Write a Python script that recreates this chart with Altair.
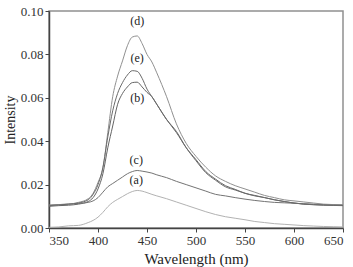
import altair as alt
import pandas as pd

# Emission spectra, wavelength in nm
wavelength = [350, 360, 370, 380, 390, 395, 400, 405, 410, 415, 420, 425, 430, 435,
              440, 445, 450, 455, 460, 470, 480, 490, 500, 510, 520, 530, 540, 550,
              560, 570, 580, 590, 600, 610, 620, 630, 640, 650]

spec_a = [0.0003, 0.0005, 0.0010, 0.0012, 0.0025, 0.0035, 0.0050, 0.0072, 0.0098, 0.0118,
          0.0132, 0.0145, 0.0158, 0.0168, 0.0173, 0.0170, 0.0163, 0.0155, 0.0148, 0.0135,
          0.0120, 0.0105, 0.0090, 0.0075, 0.0062, 0.0052, 0.0045, 0.0038, 0.0030, 0.0025,
          0.0020, 0.0017, 0.0014, 0.0011, 0.0009, 0.0007, 0.0006, 0.0005]
spec_b = [0.0100, 0.0103, 0.0105, 0.0110, 0.0122, 0.0140, 0.0180, 0.0250, 0.0370, 0.0470,
          0.0570, 0.0620, 0.0650, 0.0670, 0.0672, 0.0650, 0.0625, 0.0605, 0.0570, 0.0500,
          0.0440, 0.0370, 0.0315, 0.0260, 0.0225, 0.0195, 0.0178, 0.0160, 0.0150, 0.0140,
          0.0130, 0.0122, 0.0115, 0.0110, 0.0107, 0.0105, 0.0104, 0.0103]
spec_c = [0.0105, 0.0108, 0.0110, 0.0113, 0.0118, 0.0125, 0.0140, 0.0165, 0.0190, 0.0205,
          0.0220, 0.0235, 0.0250, 0.0260, 0.0265, 0.0262, 0.0258, 0.0253, 0.0245, 0.0232,
          0.0215, 0.0200, 0.0185, 0.0170, 0.0155, 0.0148, 0.0140, 0.0133, 0.0127, 0.0122,
          0.0118, 0.0116, 0.0114, 0.0112, 0.0110, 0.0108, 0.0107, 0.0106]
spec_d = [0.0105, 0.0108, 0.0110, 0.0118, 0.0135, 0.0160, 0.0210, 0.0275, 0.0440, 0.0605,
          0.0700, 0.0770, 0.0840, 0.0880, 0.0885, 0.0850, 0.0800, 0.0765, 0.0715, 0.0605,
          0.0480, 0.0390, 0.0330, 0.0280, 0.0240, 0.0215, 0.0195, 0.0180, 0.0165, 0.0150,
          0.0140, 0.0130, 0.0125, 0.0120, 0.0115, 0.0110, 0.0108, 0.0107]
spec_e = [0.0103, 0.0106, 0.0110, 0.0115, 0.0130, 0.0155, 0.0200, 0.0280, 0.0420, 0.0540,
          0.0620, 0.0670, 0.0705, 0.0725, 0.0722, 0.0690, 0.0640, 0.0605, 0.0570, 0.0500,
          0.0445, 0.0370, 0.0310, 0.0255, 0.0220, 0.0190, 0.0175, 0.0160, 0.0148, 0.0140,
          0.0130, 0.0122, 0.0115, 0.0110, 0.0108, 0.0106, 0.0105, 0.0104]

series_names = ["a", "b", "c", "d", "e"]
series_values = [spec_a, spec_b, spec_c, spec_d, spec_e]
series_colors = ["#b2b2b2", "#646464", "#747474", "#909090", "#6a6a6a"]

# Curve labels (text, wavelength, intensity)
label_text = ["(d)", "(e)", "(b)", "(c)", "(a)"]
label_x = [440, 440, 440, 439, 439]
label_y = [0.0955, 0.0785, 0.0600, 0.0312, 0.0220]

# Axis tick positions: labelled majors plus unlabelled minors
x_ticks = [350, 375, 400, 425, 450, 475, 500, 525, 550, 575, 600, 625, 650]
y_ticks = [0.0, 0.01, 0.02, 0.03, 0.04, 0.05, 0.06, 0.07, 0.08, 0.09, 0.10]

rows = []
for name, vals in zip(series_names, series_values):
    for w, v in zip(wavelength, vals):
        rows.append({"wl": w, "val": v, "s": name})
df = pd.DataFrame(rows)
lab = pd.DataFrame({"t": label_text, "wl": label_x, "val": label_y})

FONT = "Liberation Serif, Times New Roman, serif"
xscale = alt.Scale(domain=[350, 650], nice=False, zero=False)
yscale = alt.Scale(domain=[0, 0.10], nice=False)

x_major = "datum.value % 50 === 0"
y_major = "round(datum.value * 100) % 2 === 0"

lines = alt.Chart(df).mark_line(strokeWidth=1, interpolate="monotone").encode(
    x=alt.X("wl:Q", scale=xscale,
            axis=alt.Axis(title="Wavelength (nm)", values=x_ticks,
                          labelExpr=f"{x_major} ? datum.label : ''",
                          tickSize={"condition": {"test": x_major, "value": 4}, "value": 2.5},
                          titlePadding=4, titleFontSize=15)),
    y=alt.Y("val:Q", scale=yscale,
            axis=alt.Axis(title="Intensity", values=y_ticks, format=".2f",
                          labelExpr=f"{y_major} ? datum.label : ''",
                          tickSize={"condition": {"test": y_major, "value": 4}, "value": 2.5},
                          titlePadding=3)),
    color=alt.Color("s:N", scale=alt.Scale(domain=series_names, range=series_colors),
                    legend=None),
)

texts = alt.Chart(lab).mark_text(font=FONT, fontSize=12, color="#222").encode(
    x=alt.X("wl:Q", scale=xscale), y=alt.Y("val:Q", scale=yscale), text="t:N"
)

chart = alt.layer(lines, texts).properties(
    width=294, height=217,
    autosize=alt.AutoSizeParams(type="none"),
    padding={"left": 49, "top": 11, "right": 10, "bottom": 39},
).configure_view(stroke="#909090", strokeWidth=1.5).configure_axis(
    labelFont=FONT, labelFontSize=13, labelColor="#333", titleFont=FONT,
    titleFontSize=14, titleFontWeight="normal", titleColor="#222",
    tickColor="#444", domainColor="#444", domainWidth=1.5, tickWidth=1,
    labelPadding=2, grid=False, labelOverlap=False,
)

chart.save("out.html", embed_options={"renderer": "svg", "actions": False})
